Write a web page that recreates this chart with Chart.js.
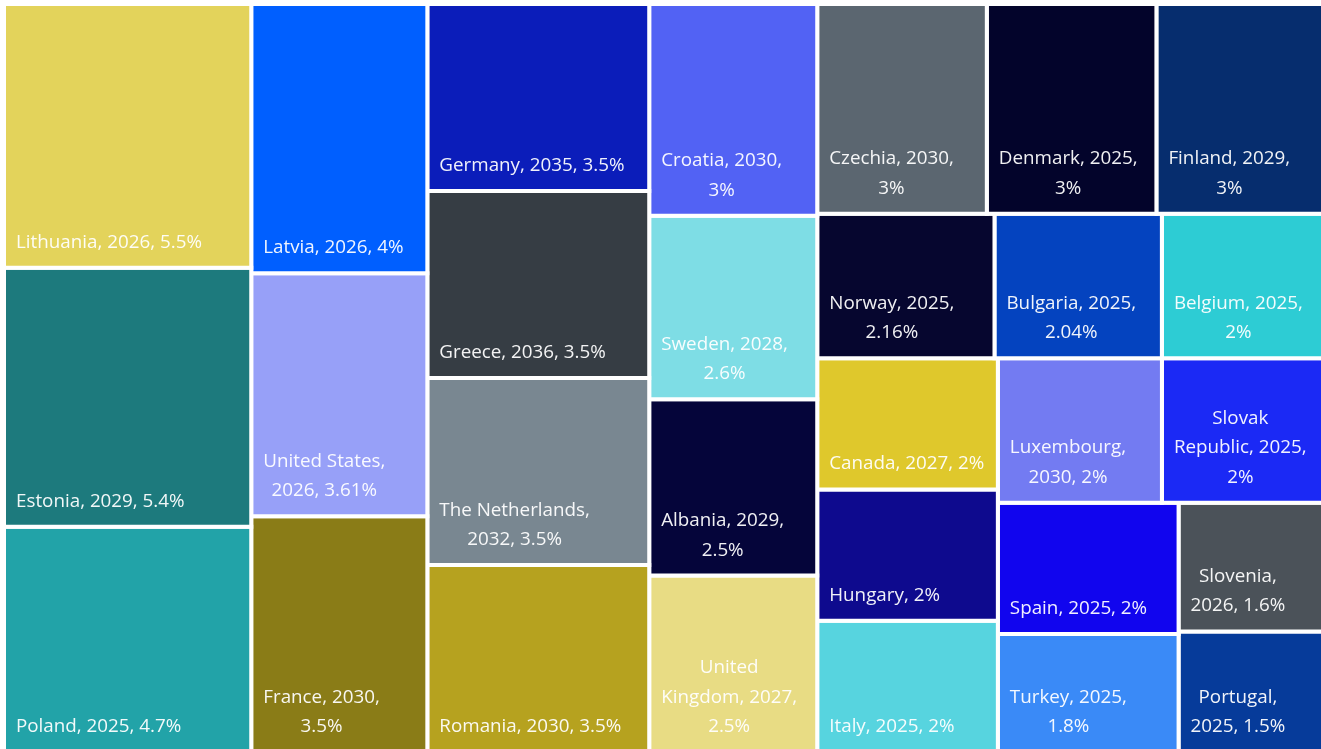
<!DOCTYPE html>
<html>
<head>
<meta charset="utf-8">
<script src="https://cdn.jsdelivr.net/npm/chart.js@4.4.1/dist/chart.umd.min.js"></script>
<style>
  html, body { margin: 0; padding: 0; background: #ffffff; overflow: hidden; width: 1321px; height: 749px; }
  #wrap { position: absolute; left: 4px; top: 4px; width: 1322px; height: 748px; }
</style>
</head>
<body>
<div id="wrap"><canvas id="chart" width="1322" height="748"></canvas></div>
<script>
// ---- data ----
const countries = [
  "Lithuania", "Estonia", "Poland",
  "Latvia", "United States", "France",
  "Germany", "Greece", "The Netherlands", "Romania",
  "Croatia", "Sweden", "Albania", "United Kingdom",
  "Czechia", "Denmark", "Finland",
  "Norway", "Bulgaria", "Belgium",
  "Canada", "Hungary", "Italy",
  "Luxembourg", "Slovak Republic",
  "Spain", "Turkey", "Slovenia", "Portugal"
];
const targetYears = [
  2026, 2029, 2025,
  2026, 2026, 2030,
  2035, 2036, 2032, 2030,
  2030, 2028, 2029, 2027,
  2030, 2025, 2029,
  2025, 2025, 2025,
  2027, null, 2025,
  2030, 2025,
  2025, 2025, 2026, 2025
];
const shares = [
  5.5, 5.4, 4.7,
  4, 3.61, 3.5,
  3.5, 3.5, 3.5, 3.5,
  3, 2.6, 2.5, 2.5,
  3, 3, 3,
  2.16, 2.04, 2,
  2, 2, 2,
  2, 2,
  2, 1.8, 1.6, 1.5
];

// ---- styles ----
const palette = [
  "#E3D35B", "#1D7A7D", "#22A3A8",
  "#005FFF", "#97A0F8", "#8A7C17",
  "#0B1DBA", "#363D44", "#798791", "#B6A21F",
  "#5262F4", "#7EDDE5", "#05053A", "#E8DC84",
  "#5B6670", "#03042B", "#062D6E",
  "#06062F", "#0443BF", "#2DCCD4",
  "#DFC82C", "#0E0A8E", "#57D4DF",
  "#737BF2", "#1B29F5",
  "#1105EE", "#3A8AF7", "#4B5259", "#063B9A"
];

// ---- tiling structure (nested groups of category indices, slice-and-dice) ----
const tiling = [
  [0, 1, 2],
  [3, 4, 5],
  [6, 7, 8, 9],
  [10, 11, 12, 13],
  [
    [14, 15, 16],
    [17, 18, 19],
    [
      [20, 21, 22],
      [
        [23, 24],
        [[25, 26], [27, 28]]
      ]
    ]
  ]
];

function sumOf(node) {
  return Array.isArray(node) ? node.reduce((s, n) => s + sumOf(n), 0) : shares[node];
}
const cells = new Array(countries.length);
function sliceDice(node, x0, y0, x1, y1, depth) {
  if (!Array.isArray(node)) { cells[node] = { x0, y0, x1, y1 }; return; }
  const total = sumOf(node);
  let acc = 0;
  node.forEach(child => {
    const v = sumOf(child);
    if (depth % 2 === 0) {
      sliceDice(child, x0 + (x1 - x0) * acc / total, y0, x0 + (x1 - x0) * (acc + v) / total, y1, depth + 1);
    } else {
      sliceDice(child, x0, y0 + (y1 - y0) * acc / total, x1, y0 + (y1 - y0) * (acc + v) / total, depth + 1);
    }
    acc += v;
  });
}
sliceDice(tiling, 0, 0, 1, 1, 0);

function labelText(i) {
  return targetYears[i] === null
    ? `${countries[i]}, ${shares[i]}%`
    : `${countries[i]}, ${targetYears[i]}, ${shares[i]}%`;
}

const datasets = countries.map((name, i) => {
  const c = cells[i];
  return {
    label: name,
    data: [
      { x: c.x0, y: c.y0 }, { x: c.x1, y: c.y0 },
      { x: c.x1, y: c.y1 }, { x: c.x0, y: c.y1 }, { x: c.x0, y: c.y0 }
    ],
    backgroundColor: palette[i],
    borderColor: "#ffffff",
    borderWidth: 4,
    borderJoinStyle: "miter",
    fill: "shape",
    pointRadius: 0,
    pointHoverRadius: 0,
    tension: 0
  };
});

const FONT_FAMILY = "'Open Sans', Lato, sans-serif";
const measureCtx = document.createElement("canvas").getContext("2d");
measureCtx.font = `100px ${FONT_FAMILY}`;
const FONT_SIZE = 100 * 186 / measureCtx.measureText("Lithuania, 2026, 5.5%").width;

function wrapWords(ctx, text, maxW) {
  const words = text.split(" ");
  const lines = [];
  let cur = "";
  words.forEach(w => {
    const test = cur ? cur + " " + w : w;
    if (cur && ctx.measureText(test).width > maxW) { lines.push(cur); cur = w; }
    else cur = test;
  });
  if (cur) lines.push(cur);
  return lines;
}

const labelPlugin = {
  id: "cellLabels",
  afterDatasetsDraw(chart) {
    const { ctx, scales: { x, y } } = chart;
    ctx.save();
    ctx.font = `${FONT_SIZE}px ${FONT_FAMILY}`;
    ctx.fillStyle = "rgba(255,255,255,0.94)";
    ctx.textBaseline = "alphabetic";
    ctx.textAlign = "center";
    countries.forEach((name, i) => {
      const c = cells[i];
      const left = x.getPixelForValue(c.x0), right = x.getPixelForValue(c.x1);
      const bottom = y.getPixelForValue(c.y1);
      const lines = wrapWords(ctx, labelText(i), right - left - 24);
      const blockW = Math.max(...lines.map(l => ctx.measureText(l).width));
      const cx = left + 12 + blockW / 2;
      lines.forEach((ln, k) => {
        ctx.fillText(ln, cx, bottom - 20 - (lines.length - 1 - k) * 29.5);
      });
    });
    ctx.restore();
  }
};

new Chart(document.getElementById("chart"), {
  type: "line",
  data: { datasets },
  options: {
    responsive: false,
    devicePixelRatio: 1,
    animation: false,
    events: [],
    layout: { padding: 0 },
    scales: {
      x: { type: "linear", min: 0, max: 1, display: false },
      y: { type: "linear", min: 0, max: 1, reverse: true, display: false }
    },
    plugins: { legend: { display: false }, tooltip: { enabled: false } }
  },
  plugins: [labelPlugin]
});
</script>
</body>
</html>
